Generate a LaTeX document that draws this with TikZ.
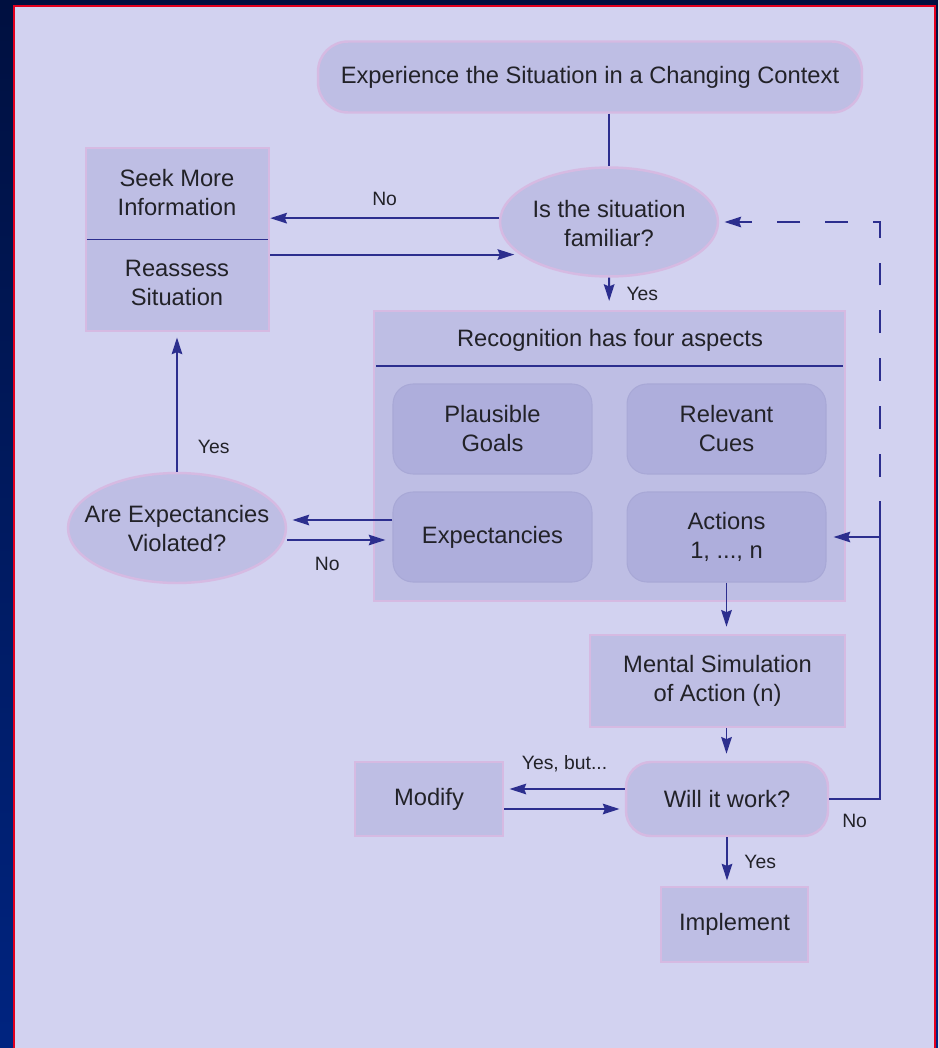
\documentclass[tikz,border=0pt]{standalone}
\usepackage{fontspec}
\setmainfont{Liberation Sans}
\usetikzlibrary{shapes.geometric,arrows.meta}
\definecolor{navytop}{RGB}{0,16,64}
\definecolor{navybot}{RGB}{0,36,128}
\definecolor{frame}{RGB}{226,0,30}
\definecolor{panel}{RGB}{210,210,240}
\definecolor{boxfill}{RGB}{190,190,228}
\definecolor{rim}{RGB}{214,186,226}
\definecolor{aspectfill}{RGB}{174,174,220}
\definecolor{aspectrim}{RGB}{168,168,214}
\definecolor{flowline}{RGB}{44,46,142}
\definecolor{ink}{RGB}{34,34,40}
\begin{document}
\begin{tikzpicture}[x=0.02cm,y=-0.02cm,
    every node/.style={text=ink,align=center,font=\fontsize{13.5}{16.5}\selectfont},
    box/.style={rectangle,draw=rim,fill=boxfill,line width=1.4pt,inner sep=0pt},
    roundbox/.style={box,rounded corners=#1},
    decision/.style={ellipse,draw=rim,fill=boxfill,line width=1.4pt,inner sep=0pt},
    aspect/.style={rectangle,rounded corners=0.4cm,draw=aspectrim,fill=aspectfill,line width=0.6pt,
      minimum width=3.98cm,minimum height=1.8cm,inner sep=0pt},
    lbl/.style={font=\fontsize{11}{13}\selectfont},
    flow/.style={draw=flowline,line width=1.1pt},
    arr/.style={flow,-{Stealth[length=9.5pt,width=6pt,inset=1.2pt]}}]
  \useasboundingbox (0,0) rectangle (938,1048);
  \shade[top color=navytop,bottom color=navybot] (0,0) rectangle (938,1048);
  \fill[frame] (13,5) rectangle (936,1048);
  \fill[panel] (15,7) rectangle (934,1048);

  \node[roundbox=0.6cm,minimum width=10.88cm,minimum height=1.42cm] (context) at (590,77)
    {Experience the Situation in a Changing Context};
  \node[decision,minimum width=4.36cm,minimum height=2.18cm] (fam) at (609,222) {};
  \node (famtxt) at (609,224) {Is the situation\\familiar?};

  \node[box,minimum width=3.66cm,minimum height=3.66cm] (seek) at (177.5,239.5) {};
  \node (seektxt) at (177,193) {Seek More\\Information};
  \node (reasstxt) at (177,283) {Reassess\\Situation};
  \draw[flow] ([xshift=1pt]seek.west) -- ([xshift=-1pt]seek.east);

  \node[box,minimum width=9.42cm,minimum height=5.8cm] (recog) at (609.5,456) {};
  \node (recogtxt) at (610,340) {Recognition has four aspects};
  \draw[flow] (376,366) -- (843,366);
  \node[aspect] (goals) at (492.5,429) {Plausible\\Goals};
  \node[aspect] (cues) at (726.5,429) {Relevant\\Cues};
  \node[aspect] (expect) at (492.5,537) {Expectancies};
  \node[aspect] (actions) at (726.5,537) {Actions\\1, ..., n};

  \node[decision,minimum width=4.36cm,minimum height=2.2cm] (viol) at (177,528) {};
  \node (violtxt) at (177,529) {Are Expectancies\\Violated?};

  \node[box,minimum width=5.1cm,minimum height=1.84cm] (sim) at (717.5,681)
    {Mental Simulation\\of Action (n)};
  \node[roundbox=0.5cm,minimum width=4.04cm,minimum height=1.48cm] (will) at (727,799)
    {Will it work?};
  \node[box,minimum width=2.96cm,minimum height=1.48cm] (modify) at (429,799) {Modify};
  \node[box,minimum width=2.94cm,minimum height=1.5cm] (impl) at (734.5,924.5) {Implement};

  \coordinate (loop) at (880,505);

  \draw (fam |- context.south) edge[flow] (fam.north);
  \draw (fam.178) edge[arr] node[lbl,midway,above=3pt]{No} (fam.178 -| seek.east);
  \draw (seek.east |- fam.200) edge[arr,shorten >=3pt] (fam.200);
  \draw (fam) edge[arr,shorten >=5pt] node[lbl,midway,right=6pt]{Yes} (recog);
  \draw ([yshift=0.34cm]expect.west) edge[arr,shorten >=3pt] ([yshift=0.34cm]expect.west -| viol.east);
  \draw ([yshift=-0.06cm]expect.west -| viol.east) edge[arr,shorten >=4pt]
    node[lbl,pos=0.38,below=6pt]{No} ([yshift=-0.06cm]expect.west);
  \draw (viol) edge[arr,shorten >=3pt] node[lbl,pos=0.18,right=8pt]{Yes} (viol |- seek.south);
  \draw (actions) edge[arr,shorten >=4pt] (actions |- sim.north);
  \draw (actions |- sim.south) edge[arr,shorten >=4pt] (actions |- will.north);
  \draw ([yshift=0.2cm]will.west) edge[arr,shorten >=3pt]
    node[lbl,midway,above=6pt]{Yes, but...} ([yshift=0.2cm]will.west -| modify.east);
  \draw ([yshift=-0.2cm]modify.east) edge[arr,shorten >=3pt] ([yshift=-0.2cm]will.west);
  \draw (will.south) edge[arr,shorten >=3pt] node[lbl,midway,right=6pt]{Yes} (will.south |- impl.north);
  \draw[flow] (will.east) -| node[lbl,pos=0.25,below=5pt]{No} (loop);
  \draw (loop |- actions) edge[arr,shorten >=4pt] (actions.east);
  \draw[arr,shorten >=3pt,dash pattern=on 13pt off 14.2pt,dash phase=11pt] (loop) |- (fam.east);
\end{tikzpicture}
\end{document}
